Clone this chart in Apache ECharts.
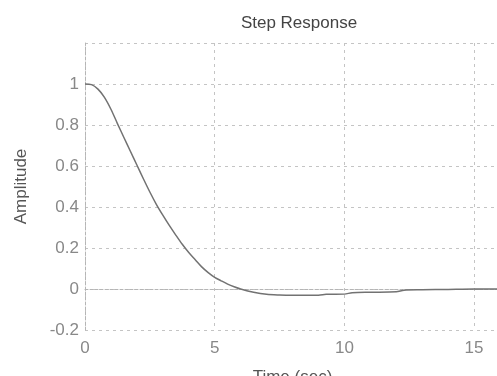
<!DOCTYPE html>
<html>
<head>
<meta charset="utf-8">
<script src="https://cdn.jsdelivr.net/npm/echarts@6/dist/echarts.min.js"></script>
<style>
  html, body { margin: 0; padding: 0; background: #fff; }
  #chart { width: 497px; height: 376px; }
</style>
</head>
<body>
<div id="chart"></div>
<script>
// Step response samples: time (sec) and amplitude
const timeSec = [0, 0.25, 0.5, 0.75, 1.0, 1.25, 1.5, 1.75, 2.0, 2.25, 2.5, 2.75, 3.0, 3.25, 3.5, 3.75, 4.0, 4.25, 4.5, 4.75, 5.0, 5.25, 5.5, 5.75, 6.0, 6.5, 7.0, 7.5, 8.0, 9.0, 9.3, 10.0, 10.3, 11.0, 12.0, 12.3, 13.0, 14.0, 15.0, 16.0];
const amplitude = [1.0, 0.997, 0.975, 0.935, 0.877, 0.807, 0.739, 0.672, 0.605, 0.538, 0.473, 0.413, 0.36, 0.31, 0.263, 0.218, 0.178, 0.143, 0.108, 0.08, 0.057, 0.04, 0.024, 0.011, 0.0, -0.016, -0.026, -0.029, -0.03, -0.03, -0.026, -0.025, -0.018, -0.016, -0.014, -0.006, -0.004, -0.002, 0, 0];

const xTicks = [0, 5, 10, 15];
const yTicks = [-0.2, 0, 0.2, 0.4, 0.6, 0.8, 1];

const textFont = 'Liberation Sans, Arial, Helvetica, sans-serif';
const gridLine = { show: true, lineStyle: { color: '#c4c4c4', type: [3, 4], width: 1 } };

const chart = echarts.init(document.getElementById('chart'), null, { renderer: 'canvas' });
chart.setOption({
  backgroundColor: '#fff',
  animation: false,
  title: {
    text: 'Step Response',
    left: 294, top: 10, textAlign: 'center',
    textStyle: { fontFamily: textFont, fontSize: 17, fontWeight: 'normal', color: '#444' }
  },
  grid: { left: 85, top: 43, right: -3, bottom: 46, outerBoundsMode: 'none', containLabel: false },
  xAxis: {
    type: 'value', min: 0, max: 16, interval: 5,
    name: 'Time (sec)', nameLocation: 'middle', nameGap: 39,
    nameTextStyle: { fontFamily: textFont, fontSize: 17, color: '#555' },
    axisLine: { show: true, lineStyle: { color: '#b5b5b5', type: [3, 2] } },
    axisTick: { show: false },
    axisLabel: {
      margin: 10, fontFamily: textFont, fontSize: 17, color: '#888',
      formatter: v => xTicks.includes(v) ? String(v) : ''
    },
    splitLine: gridLine
  },
  yAxis: {
    type: 'value', min: -0.2, max: 1.2, interval: 0.2,
    name: 'Amplitude', nameLocation: 'middle', nameGap: 55,
    nameTextStyle: { fontFamily: textFont, fontSize: 17, color: '#555' },
    axisLine: { show: true, lineStyle: { color: '#b5b5b5', type: [3, 2] } },
    axisTick: { show: false },
    axisLabel: {
      margin: 6, fontFamily: textFont, fontSize: 17, color: '#888',
      formatter: v => {
        const r = Math.round(v * 10) / 10;
        return yTicks.includes(r) ? String(r) : '';
      }
    },
    splitLine: gridLine
  },
  series: [{
    type: 'line',
    data: timeSec.map((t, i) => [t, amplitude[i]]),
    smooth: 0.3,
    showSymbol: false,
    lineStyle: { color: '#727272', width: 1.5 }
  }]
});
</script>
</body>
</html>
